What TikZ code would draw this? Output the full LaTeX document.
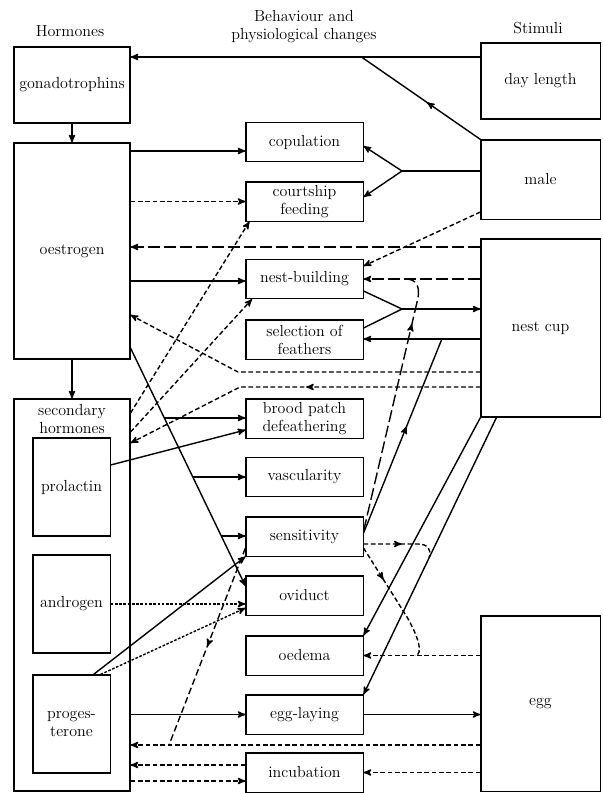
\documentclass[tikz,border=0pt]{standalone}
\usepackage{tikz}
\usetikzlibrary{arrows,calc,decorations.markings}

\tikzset{
  box/.style={draw, line width=0.8pt, align=center, inner sep=1pt},
  midbox/.style={box, minimum width=87.8pt, minimum height=29.3pt},
  lbox/.style={box, minimum width=87pt},
  rbox/.style={box, minimum width=89.3pt},
  ibox/.style={box, minimum width=57.8pt, minimum height=73.5pt},
  link/.style={line width=1.05pt},
  sdash/.style={link, dash pattern=on 3.5pt off 2pt},
  mdash/.style={link, dash pattern=on 5pt off 2.5pt},
  ldash/.style={link, dash pattern=on 9pt off 3pt},
  ddot/.style={link, dash pattern=on 2pt off 1.2pt},
  midarrow/.style={postaction={decorate}, decoration={markings, mark=at position #1 with {\arrow{stealth'}}}}
}

\begin{document}
\begin{tikzpicture}[x=0.75pt, y=-0.75pt, >=stealth', font=\fontsize{12}{13.5}\selectfont]
\useasboundingbox (0,0) rectangle (603,793);

% headings
\node (hhorm) at (70,31) {Hormones};
\node[align=center] (hbeh) at (304,27) {Behaviour and\\physiological changes};
\node (hstim) at (538,28) {Stimuli};

% hormones
\node[lbox, minimum height=57pt] (gonado) at (72,85) {gonadotrophins};
\node[lbox, minimum height=162pt] (oestr) at (72,251) {oestrogen};
\node[lbox, minimum height=294pt] (second) at (72,595) {};
\node[align=center] (sechead) at (72,419) {secondary\\hormones};
\node[ibox] (prol) at (71.5,487) {prolactin};
\node[ibox] (andr) at (71.5,604) {androgen};
\node[ibox] (prog) at (71.5,724) {proges-\\terone};

% behaviour and physiological changes
\node[midbox] (cop) at (304.5,142) {copulation};
\node[midbox] (court) at (304.5,201.5) {courtship\\feeding};
\node[midbox] (nestb) at (304.5,279) {nest-building};
\node[midbox] (sel) at (304.5,339.5) {selection of\\feathers};
\node[midbox] (brood) at (304.5,418.5) {brood patch\\defeathering};
\node[midbox] (vasc) at (304.5,477) {vascularity};
\node[midbox] (sens) at (304.5,536.5) {sensitivity};
\node[midbox] (ovi) at (304.5,595.5) {oviduct};
\node[midbox] (oed) at (304.5,655.5) {oedema};
\node[midbox] (egglay) at (304.5,714.5) {egg-laying};
\node[midbox] (incub) at (304.5,772.5) {incubation};

% stimuli
\node[rbox, minimum height=57pt] (daylen) at (540.5,81) {day length};
\node[rbox, minimum height=59.3pt] (male) at (540.5,179.5) {male};
\node[rbox, minimum height=133.5pt] (nestcup) at (540.5,328) {nest cup};
\node[rbox, minimum height=131.3pt] (egg) at (540.5,703.5) {egg};

% top
\draw[link,->] (daylen.west |- 0,57) -- coordinate[pos=0.34] (jday) (gonado.east |- 0,57);
\draw[link, midarrow=0.45] (male.north west) -- (jday);
\draw[link,->] (gonado.south) -- (oestr.north);
\draw[link,->] (oestr.south) -- (second.north);

% oestrogen and male
\draw[link,->] (oestr.east |- 0,151) -- (cop.west |- 0,151);
\draw[sdash,->] (oestr.east |- court) -- (court.west);
\draw[link,->] (oestr.east |- 0,281) -- (nestb.west |- 0,281);
\coordinate (fkmale) at (402,171);
\draw[link] (male.west |- fkmale) -- (fkmale);
\draw[link,->] (fkmale) -- (cop.east |- 0,146);
\draw[link,->] (fkmale) -- (court.east |- 0,197);
\draw[sdash,->] (male.west |- 0,212) -- (nestb.east |- 0,266);

% nest cup
\draw[ldash,->] (nestcup.west |- 0,247) -- (oestr.east |- 0,247);
\draw[ldash,->] (nestcup.west |- 0,279) -- coordinate[pos=0.64] (jnest) (nestb.east |- 0,279);
\coordinate (fknest) at (402,309);
\draw[link] (nestb.east |- 0,291) -- (fknest);
\draw[link] (sel.east |- 0,328) -- (fknest);
\draw[link,->] (fknest) -- (nestcup.west |- fknest);
\draw[link,->] (nestcup.west |- 0,339) -- coordinate[pos=0.33] (jsel) (sel.east |- 0,339);
\draw[sdash,->] (nestcup.west |- 0,372) -- (238,372) -- (oestr.east |- 0,315);
\draw[sdash,->, midarrow=0.48] (nestcup.west |- 0,387) -- (240,387) -- (second.east |- 0,443);

% secondary hormones
\draw[sdash,->] (second.east |- 0,413) -- ([xshift=3pt]court.south west);
\draw[sdash,->] (second.east |- 0,432) -- ([xshift=5pt]nestb.south west);
\draw[link,->] (oestr.east |- 0,348) -- coordinate[pos=0.294] (bbrood) coordinate[pos=0.542] (bvasc) coordinate[pos=0.79] (bsens) (ovi.west |- 0,586);
\draw[link,->] (bbrood) -- (brood.west |- bbrood);
\draw[link,->] (bvasc) -- (vasc.west |- bvasc);
\draw[link,->] (bsens) -- (sens.west |- bsens);
\draw[link,->] (prol.east |- 0,465) -- (brood.west |- 0,430);
\draw[link,->] ($(prog.north)+(22,0)$) -- (sens.south west);
\draw[ddot,->] ($(prog.north)+(29,0)$) -- (ovi.west |- 0,608);
\draw[ddot,->] (andr.east) -- (ovi.west |- andr.east);

% egg
\draw[link,->] (nestcup.south west) -- (oed.north east);
\draw[link,->] ($(nestcup.south west)+(16,0)$) -- coordinate[pos=0.507] (jlay) (egglay.north east);
\draw[sdash,->] (egg.west |- oed) -- coordinate[pos=0.56] (joed) (oed.east);
\draw[link,->] (second.east |- egglay) -- (egglay.west);
\draw[link,->] (egglay.east) -- (egg.west |- egglay);
\draw[sdash,->] (egg.west |- 0,745) -- coordinate[pos=0.89] (jegg) (second.east |- 0,745);
\draw[sdash,->] (incub.west |- 0,765) -- (second.east |- 0,765);
\draw[sdash,->] (second.east |- 0,781) -- (incub.west |- 0,781);
\draw[sdash,->] (egg.west |- incub) -- (incub.east);

% sensitivity
\draw[link, midarrow=0.55] (sens.east |- 0,533) -- (jsel);
\draw[ldash, midarrow=0.8] (sens.east |- 0,531) -- (418,298) .. controls (420,286) and (416,279) .. (jnest);
\draw[sdash, midarrow=0.5] (sens.east |- 0,544) -- (418,544) .. controls (428,544) and (432,550) .. (jlay);
\draw[sdash, midarrow=0.3] (sens.east |- 0,548) -- (407,617) .. controls (418,636) and (424,655) .. (joed);
\draw[mdash, midarrow=0.5] (sens.west |- 0,548) -- (jegg);
\end{tikzpicture}
\end{document}
